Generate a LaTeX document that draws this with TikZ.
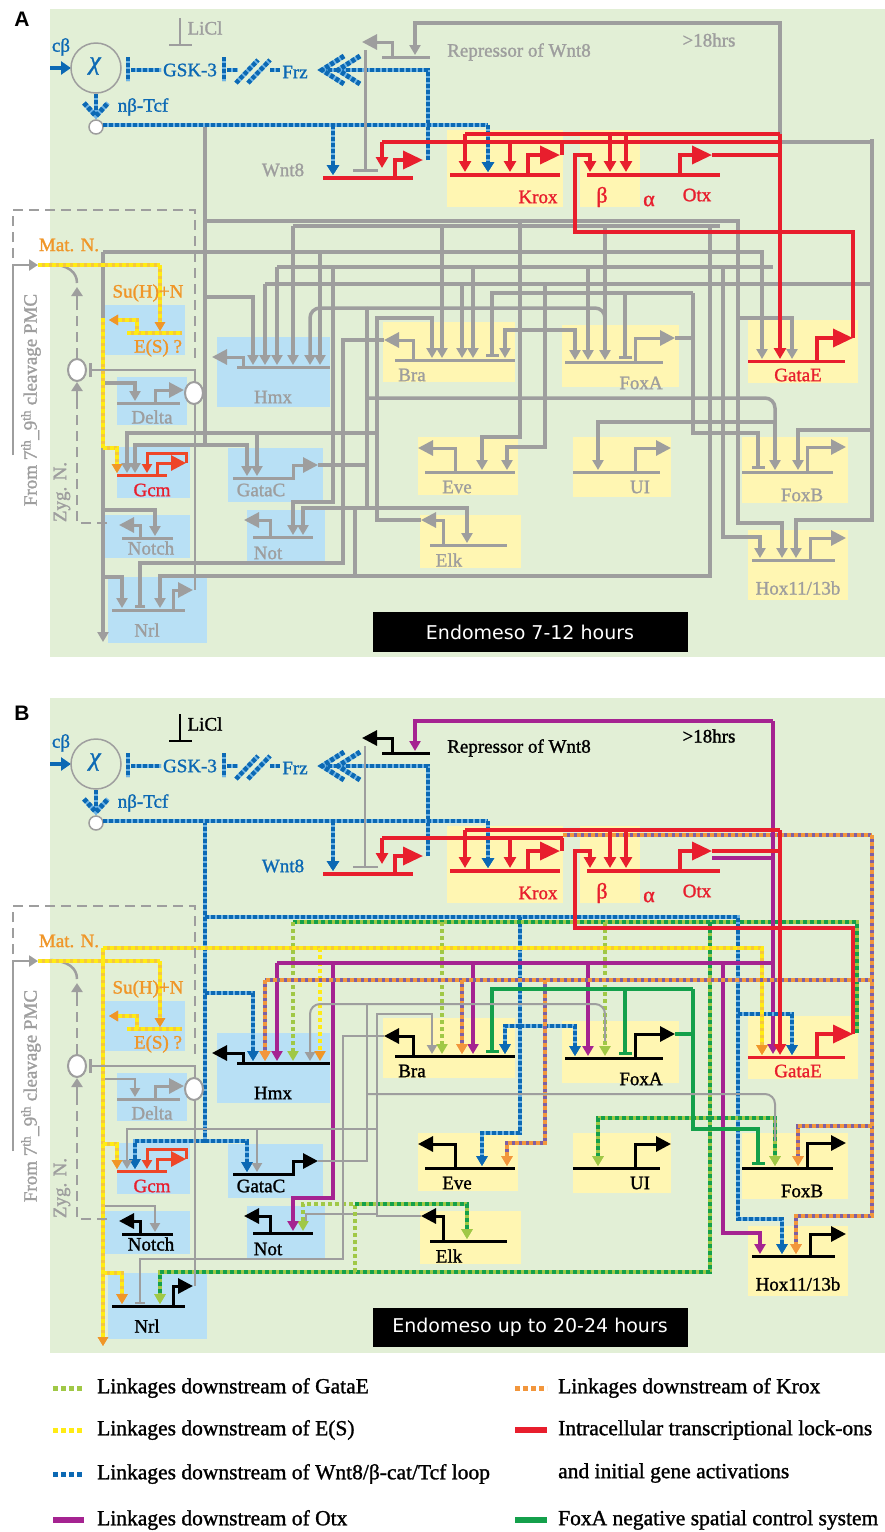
\documentclass[tikz,border=0pt]{standalone}
\usepackage{fontspec}
\setmainfont{Liberation Serif}[FakeBold=1.3]
\newfontfamily\dvs{DejaVu Sans}
\newfontfamily\lsb{Liberation Sans}
\usetikzlibrary{arrows.meta}
\definecolor{bgG}{RGB}{226,239,214}
\definecolor{bxB}{RGB}{184,224,245}
\definecolor{bxY}{RGB}{255,246,178}
\definecolor{gry}{RGB}{158,158,158}
\definecolor{rd}{RGB}{232,30,45}
\definecolor{gcmR}{RGB}{238,70,40}
\definecolor{bluD}{RGB}{12,105,180}
\definecolor{bluL}{RGB}{110,180,230}
\definecolor{mag}{RGB}{165,35,145}
\definecolor{dgn}{RGB}{20,160,75}
\definecolor{lgn}{RGB}{160,200,70}
\definecolor{org}{RGB}{242,150,60}
\definecolor{pur}{RGB}{125,95,165}
\definecolor{yel}{RGB}{255,235,20}
\definecolor{yelB}{RGB}{245,200,60}
\definecolor{orgT}{RGB}{240,150,40}
\newcommand\gsz{\fontsize{19}{20}\selectfont}
\tikzset{
  lab/.style={inner sep=0pt, font=\gsz},
  pr/.style={line width=3pt},
  bt/.style={line width=3pt,-{Triangle[length=15pt,width=15pt]}},
  btR/.style={line width=3.5pt,draw=rd,-{Triangle[length=20pt,width=18pt]}},
  rl/.style={draw=rd,line width=3.5pt},
  tR/.style={-{Triangle[length=11pt,width=12pt,color=rd]}},
  bl/.style={draw=bluD,line width=4.5pt,dash pattern=on 4pt off 2pt,preaction={draw=bluL,solid,line width=4.5pt}},
  yl/.style={draw=yel,line width=4pt,dash pattern=on 4pt off 3pt,preaction={draw=yelB,solid,line width=4pt}},
  tO/.style={-{Triangle[length=9pt,width=10pt,color=orgT]}},
  tBl/.style={-{Triangle[length=10pt,width=12pt,color=bluD]}},
}
% ---------- boxes ----------
\newcommand\boxesAll{%
  \fill[bxB] (103,305) rectangle (185,355);
  \fill[bxB] (117,377) rectangle (187,425);
  \fill[bxB] (117,447) rectangle (190,498);
  \fill[bxB] (105,515) rectangle (190,558);
  \fill[bxB] (108,577) rectangle (207,643);
  \fill[bxB] (217,337) rectangle (330,407);
  \fill[bxB] (228,448) rectangle (323,502);
  \fill[bxB] (247,510) rectangle (325,562);
  \fill[bxY] (447,130) rectangle (563,207);
  \fill[bxY] (580,130) rectangle (640,207);
  \fill[bxY] (383,322) rectangle (515,382);
  \fill[bxY] (562,325) rectangle (679,387);
  \fill[bxY] (748,320) rectangle (858,383);
  \fill[bxY] (418,437) rectangle (518,495);
  \fill[bxY] (573,437) rectangle (671,497);
  \fill[bxY] (742,437) rectangle (848,503);
  \fill[bxY] (420,515) rectangle (521,568);
  \fill[bxY] (748,530) rectangle (848,600);
}
% ---------- promoters / bent arrows ----------
\newcommand\promsAll[1]{%
  \draw[pr,#1] (237,367)--(330,367); \draw[bt,#1] (243,367)--(243,357)--(212,357);
  \draw[pr,gry] (117,403)--(180,403); \draw[bt,gry] (155,403)--(155,390)--(184,390);
  \draw[pr,gcmR] (117,475)--(167,475); \draw[bt,gcmR] (157,475)--(157,463)--(186,463);
  \draw[line width=3pt,gcmR,-{Triangle[length=9pt,width=10pt]}] (186,463)--(186,453)--(147,453)--(147,473);
  \draw[pr,#1] (122,538)--(173,538); \draw[bt,#1] (140,538)--(140,525)--(119,525);
  \draw[pr,#1] (112,610)--(185,610); \draw[bt,#1] (173,610)--(173,590)--(193,590);
  \draw[pr,#1] (233,478)--(295,478); \draw[bt,#1] (293,478)--(293,465)--(318,465);
  \draw[pr,#1] (253,537)--(313,537); \draw[bt,#1] (270,537)--(270,520)--(244,520);
  \draw[pr,#1] (395,360)--(515,360); \draw[bt,#1] (413,360)--(413,340)--(384,340);
  \draw[pr,#1] (565,362)--(663,362); \draw[bt,#1] (635,362)--(635,338)--(675,338);
  \draw[pr,rd] (748,361)--(845,361); \draw[btR] (817,361)--(817,338)--(853,338);
  \draw[pr,#1] (425,472)--(515,472); \draw[bt,#1] (455,472)--(455,448)--(418,448);
  \draw[pr,#1] (573,472)--(660,472); \draw[bt,#1] (635,472)--(635,448)--(671,448);
  \draw[pr,#1] (742,472)--(833,472); \draw[bt,#1] (807,472)--(807,447)--(846,447);
  \draw[pr,#1] (430,545)--(507,545); \draw[bt,#1] (443,545)--(443,520)--(421,520);
  \draw[pr,#1] (752,560)--(835,560); \draw[bt,#1] (810,560)--(810,538)--(846,538);
  \draw[pr,rd,line width=3.5pt] (323,178)--(413,178); \draw[btR] (395,178)--(395,160)--(423,160);
  \draw[pr,rd,line width=3.5pt] (450,175)--(560,175); \draw[btR] (528,175)--(528,155)--(560,155);
  \draw[pr,rd,line width=3.5pt] (587,175)--(720,175); \draw[btR] (680,175)--(680,155)--(712,155);
  \draw[pr,#1] (382,57)--(430,57); \draw[bt,#1] (392,57)--(392,42)--(362,42);
}
% ---------- labels ----------
\newcommand\labsAll[1]{%
  \node[lab,text=#1] (lHmx) at (273,397) {Hmx};
  \node[lab,text=gry] (lDelta) at (152,417) {Delta};
  \node[lab,text=rd] (lGcm) at (152,490) {Gcm};
  \node[lab,text=#1] (lNotch) at (151,548) {Notch};
  \node[lab,text=#1] (lNrl) at (147,630) {Nrl};
  \node[lab,text=#1] (lGataC) at (261,490) {GataC};
  \node[lab,text=#1] (lNot) at (268,553) {Not};
  \node[lab,text=#1] (lBra) at (412,375) {Bra};
  \node[lab,text=#1] (lFoxA) at (641,383) {FoxA};
  \node[lab,text=rd] (lGataE) at (798,375) {GataE};
  \node[lab,text=#1] (lEve) at (457,487) {Eve};
  \node[lab,text=#1] (lUI) at (640,487) {UI};
  \node[lab,text=#1] (lFoxB) at (802,495) {FoxB};
  \node[lab,text=#1] (lElk) at (449,560) {Elk};
  \node[lab,text=#1] (lHox) at (798,588) {Hox11/13b};
  \node[lab,text=rd] (lKrox) at (538,197) {Krox};
  \node[lab,text=rd,font=\fontsize{22}{22}\selectfont] (lbeta) at (602,197) {β};
  \node[lab,text=rd,font=\fontsize{22}{22}\selectfont] (lalpha) at (649,201) {α};
  \node[lab,text=rd] (lOtx) at (697,195) {Otx};
  \node[lab,text=#1] (lRep) at (519,52) {Repressor of Wnt8};
  \node[lab,text=#1] (l18) at (709,40) {>18hrs};
  \node[lab,text=#1] (lLiCl) at (205,28) {LiCl};
  \node[lab,text=orgT] (lMat) at (69,245) {Mat. N.};
  \node[lab,text=orgT] (lSuH) at (148,293) {Su(H)+N};
  \node[lab,text=orgT] (lES) at (158,348) {E(S) ?};
  \node[lab,text=gry,rotate=90] (lPMC) at (31,400) {From 7\textsuperscript{th}\_9\textsuperscript{th} cleavage PMC};
  \node[lab,text=gry,rotate=90] (lZyg) at (62,492) {Zyg. N.};
}
% ---------- signalling top ----------
\newcommand\topsig[1]{%
  \draw[draw=bluD,line width=4pt,-{Triangle[length=10pt,width=13pt]}] (50,68)--(71,68);
  \node[lab,text=bluD] (lcb) at (61,47) {cβ};
  \draw[gry,line width=1.5pt] (96,68) circle[radius=25];
  \node[font=\itshape\fontsize{26}{26}\selectfont,text=bluD,inner sep=0pt] (lchi) at (95,66) {χ};
  \draw[bl] (128,57)--(128,81);
  \draw[bl] (131,70)--(161,70);
  \node[lab,text=bluD] (lgsk) at (190,70) {GSK-3};
  \draw[bl] (224,57)--(224,81);
  \draw[bl] (227,70)--(238,70);
  \draw[bl] (236,83)--(258,60); \draw[bl] (248,83)--(270,60);
  \draw[bl] (270,70)--(280,70);
  \node[lab,text=bluD] (lfrz) at (295,72) {Frz};
  \draw[bl] (428,160)--(428,70)--(324,70);
  \draw[bl,line width=5pt] (344,56)--(322,70)--(344,84);
  \draw[bl,line width=5pt] (360,56)--(338,70)--(360,84);
  \draw[bl] (96,94)--(96,113);
  \draw[bl,line width=5pt] (84,103)--(96,116)--(108,103);
  \draw[gry,line width=1.5pt,fill=white] (96,127) circle[radius=7];
  \node[lab,text=bluD] (lntcf) at (143,107) {nβ-Tcf};
  \draw[bl] (103,125)--(488,125);
  \draw[bl,tBl] (488,125)--(488,172);
  \draw[bl,tBl] (333,125)--(333,175);
  \draw[#1,line width=2pt] (180,18)--(180,45); \draw[#1,line width=2.5pt] (169,45)--(192,45);
}
% ---------- red network ----------
\newcommand\rednet{%
  \draw[rl] (780,134)--(465,134); \draw[rl,tR] (465,134)--(465,172); \draw[rl,tR] (610,134)--(610,172);
  \draw[rl,tR] (626,134)--(626,172);
  \draw[rl] (563,142)--(382,142); \draw[rl,tR] (382,142)--(382,168); \draw[rl,tR] (510,142)--(510,172);
  \draw[rl] (562,155)--(562,142);
  \draw[rl] (712,155)--(780,155);
  \draw[rl,tR] (780,134)--(780,359);
  \draw[rl,tR] (853,338)--(853,232)--(575,232)--(575,155)--(590,155)--(590,172);
}
% ---------- PMC / Delta region ----------
\newcommand\pmc{%
  \draw[gry,line width=2.5pt,dash pattern=on 10pt off 6pt] (13,258)--(13,210)--(195,210)--(195,362);
  \draw[gry,line width=2.5pt,-{Triangle[length=9pt,width=11pt]}] (13,455)--(13,265)--(38,265);
  \draw[gry,line width=2.5pt] (50,264) .. controls (68,265) and (77,272) .. (77,283);
  \draw[gry,line width=2.5pt,dash pattern=on 10pt off 6pt] (77,358)--(77,300);
  \draw[gry,line width=2.5pt,-{Triangle[length=9pt,width=11pt]}] (77,302)--(77,287);
  \draw[gry,line width=2.5pt,dash pattern=on 10pt off 6pt] (107,523)--(77,523)--(77,400);
  \draw[gry,line width=2.5pt,-{Triangle[length=9pt,width=11pt]}] (77,402)--(77,382);
  \draw[gry,line width=2pt,fill=white] (77,370) ellipse[x radius=9,y radius=11];
  \draw[gry,line width=2.5pt,-{Bar[width=14pt,line width=2.5pt]}] (195,383)--(195,370)--(89,370);
  \draw[gry,line width=2.5pt] (195,404)--(195,590);
  \draw[gry,line width=2pt,fill=white] (194,393) ellipse[x radius=9,y radius=11];
  \draw[yl] (38,265)--(160,265); \draw[yl,tO] (160,265)--(160,331);
  \draw[yl] (127,333)--(182,333);
  \draw[yl,tO] (137,333)--(137,320)--(109,320);
  \draw[yl,tO] (103,448)--(117,448)--(117,473);
}
% ---------- shared wiring ----------
\newcommand\wires{%
  % Wnt8 loop
  \draw[WB] (205,125)--(205,445);
  \draw[WB,tB] (205,221)--(738,221)--(738,523)--(782,523)--(782,558);
  \draw[WB,tB] (738,318)--(792,318)--(792,359);
  \draw[WB,tB] (520,221)--(520,437)--(482,437)--(482,470);
  \draw[WB,tB] (520,330)--(505,330)--(505,358);
  \draw[WB,tB] (520,330)--(575,330)--(575,360);
  \draw[WB,tB] (205,297)--(253,297)--(253,365);
  \draw[WB,tB] (205,445)--(135,445)--(135,473);
  \draw[WB,tB] (205,445)--(247,445)--(247,476);
  % GataE
  \draw[WG] (710,226)--(293,226);
  \draw[WGb,tG] (293,226)--(293,365);
  \draw[WGb,tG] (442,226)--(442,358);
  \draw[WGb,tG] (605,226)--(605,360);
  \draw[WG,tG] (710,226)--(710,576)--(160,576)--(160,608);
  \draw[WG,tG] (710,422)--(598,422)--(598,470);
  \draw[WG,tG] (710,422)--(775,422)--(775,470);
  \draw[WGb,tG] (355,576)--(355,508)--(303,508)--(303,535);
  \draw[WG,tG] (355,508)--(467,508)--(467,543);
  % E(S)
  \draw[WY,tY] (103,252)--(762,252)--(762,359);
  \draw[WYb,tY] (320,252)--(320,365);
  \draw[WY,tY] (103,577)--(122,577)--(122,608);
  % Otx
  \draw[WM] (773,267)--(277,267);
  \draw[WM,tM] (277,267)--(277,365);
  \draw[WM,tM] (473,267)--(473,358);
  \draw[WM,tM] (588,267)--(588,360);
  \draw[WM,tM] (333,267)--(333,502)--(293,502)--(293,535);
  \draw[WM,tM] (723,267)--(723,537)--(760,537)--(760,558);
  % Krox
  \draw[WK,tK] (872,139)--(872,520)--(796,520)--(796,558);
  \draw[WK,tK] (872,430)--(798,430)--(798,470);
  \draw[WK] (872,284)--(265,284);
  \draw[WK,tK] (265,284)--(265,365);
  \draw[WK,tK] (462,284)--(462,358);
  \draw[WK,tK] (545,284)--(545,447)--(507,447)--(507,470);
  % FoxA negative
  \draw[WF] (675,338)--(693,338);
  \draw[WF,tF] (693,293)--(693,433)--(758,433)--(758,469);
  \draw[WF,tF] (693,293)--(492,293)--(492,357);
  \draw[WF,tF] (625,293)--(625,359);
  % grey
  \draw[WGr] (318,465)--(367,465)--(367,308);
  \draw[WGr,tGr,rounded corners=10pt] (367,308)--(310,308)--(310,365);
  \draw[WGr,rounded corners=10pt] (367,308)--(605,308)--(605,345);
  \draw[WGr,rounded corners=10pt] (367,398)--(775,398)--(775,445);
  \draw[WGr,tGr] (421,520)--(377,520)--(377,318)--(432,318)--(432,358);
  \draw[WGr,tGr] (377,433)--(127,433)--(127,473);
  \draw[WGr,tGr] (257,433)--(257,476);
  \draw[WGr,tBar] (384,340)--(343,340)--(343,563)--(140,563)--(140,608);
  \draw[WGr,tGr] (103,383)--(135,383)--(135,401);
  \draw[WGr,tGr] (103,510)--(155,510)--(155,536);
}
\begin{document}
\begin{tikzpicture}[x=1pt,y=-1pt]
\useasboundingbox (0,0) rectangle (885,1532);
\fill[white] (0,0) rectangle (885,1532);
% ================= PANEL A =================
\fill[bgG] (50,9) rectangle (885,657);
\node[font=\lsb\bfseries\fontsize{21}{21}\selectfont,inner sep=0pt] (pA) at (22,19) {A};
\begin{scope}[
  WB/.style={draw=gry,line width=3.5pt}, WG/.style={draw=gry,line width=3.5pt},
  WGb/.style={draw=gry,line width=3.5pt}, WY/.style={draw=gry,line width=3.5pt},
  WYb/.style={draw=gry,line width=3.5pt}, WM/.style={draw=gry,line width=3.5pt},
  WK/.style={draw=gry,line width=3.5pt}, WF/.style={draw=gry,line width=3.5pt},
  WGr/.style={draw=gry,line width=3.5pt},
  tB/.style={-{Triangle[length=10pt,width=11pt,color=gry]}},
  tG/.style={-{Triangle[length=10pt,width=11pt,color=gry]}},
  tY/.style={-{Triangle[length=10pt,width=11pt,color=gry]}},
  tM/.style={-{Triangle[length=10pt,width=11pt,color=gry]}},
  tK/.style={-{Triangle[length=10pt,width=11pt,color=gry]}},
  tGr/.style={-{Triangle[length=10pt,width=11pt,color=gry]}},
  tF/.style={-{Bar[width=13pt,line width=3pt,color=gry]}},
  tBar/.style={-{Bar[width=10pt,line width=3pt,color=gry]}}]
\boxesAll
\draw[gry,line width=3.5pt,-{Triangle[length=10pt,width=11pt]}] (103,252)--(103,642);
\draw[gry,line width=3.5pt] (780,142)--(872,142);
\draw[gry,line width=3.5pt,-{Triangle[length=10pt,width=11pt]}] (780,134)--(780,23)--(415,23)--(415,55);
\draw[gry,line width=3.5pt] (367,465)--(367,508)--(303,508);
\draw[gry,line width=3.5pt] (710,226)--(720,226);
\wires
\draw[yl] (103,318)--(103,448);
\pmc
\topsig{gry}
\draw[gry,line width=3pt,-{Bar[width=25pt,line width=3pt]}] (365,50)--(365,172);
\rednet
\draw[rl] (563,142)--(780,142);
\promsAll{gry}
\labsAll{gry}
\node[lab,text=gry] (lWntA) at (283,170) {Wnt8};
\fill[black] (373,612) rectangle (688,652);
\node[font=\dvs\fontsize{19}{19}\selectfont,text=white] (tA) at (530,632) {Endomeso 7-12 hours};
\end{scope}
% ================= PANEL B =================
\fill[bgG] (50,698) rectangle (885,1353);
\node[font=\lsb\bfseries\fontsize{21}{21}\selectfont,inner sep=0pt] (pB) at (22,713) {B};
\begin{scope}[shift={(0,696)},
  WB/.style={bl},
  WG/.style={draw=dgn,line width=4pt,dash pattern=on 4pt off 3pt,preaction={draw=lgn,solid,line width=4pt}},
  WGb/.style={draw=lgn,line width=4pt,dash pattern=on 4pt off 3pt},
  WY/.style={yl},
  WYb/.style={draw=yel,line width=4pt,dash pattern=on 4pt off 3pt},
  WM/.style={draw=mag,line width=3.5pt},
  WK/.style={draw=org,line width=4pt,dash pattern=on 4pt off 3pt,preaction={draw=pur,solid,line width=4pt}},
  WF/.style={draw=dgn,line width=4pt},
  WGr/.style={draw=gry,line width=2pt},
  tB/.style={-{Triangle[length=10pt,width=11pt,color=bluD]}},
  tG/.style={-{Triangle[length=10pt,width=11pt,color=lgn]}},
  tY/.style={-{Triangle[length=10pt,width=11pt,color=orgT]}},
  tM/.style={-{Triangle[length=10pt,width=11pt,color=mag]}},
  tK/.style={-{Triangle[length=10pt,width=11pt,color=org]}},
  tGr/.style={-{Triangle[length=9pt,width=10pt,color=gry]}},
  tF/.style={-{Bar[width=13pt,line width=3pt,color=dgn]}},
  tBar/.style={-{Bar[width=10pt,line width=2pt,color=gry]}}]
\boxesAll
\draw[WG] (857,337)--(857,226)--(710,226);
\draw[WK] (563,139)--(872,139);
\draw[WM] (712,162)--(773,162);
\draw[WM,tM] (773,25)--(773,358);
\draw[WM,tM] (773,25)--(415,25)--(415,55);
\draw[WGr] (377,518)--(306,518)--(306,528);
\wires
\draw[yl,tO] (103,252)--(103,650);
\pmc
\topsig{black}
\draw[gry,line width=2pt,-{Bar[width=25pt,line width=2.5pt]}] (365,50)--(365,172);
\rednet
\promsAll{black}
\labsAll{black}
\node[lab,text=bluD] (lWntB) at (283,170) {Wnt8};
\fill[black] (373,612) rectangle (688,651);
\node[font=\dvs\fontsize{19}{19}\selectfont,text=white] (tB) at (530,631) {Endomeso up to 20-24 hours};
\end{scope}
% ================= LEGEND =================
\tikzset{lg/.style={inner sep=0pt,anchor=west,font=\fontsize{21.5}{22}\selectfont}}
\draw[lgn,line width=5pt,dash pattern=on 5pt off 3pt] (53,1388)--(84,1388);
\node[lg] (g1) at (97,1388) {Linkages downstream of GataE};
\draw[yel,line width=5pt,dash pattern=on 5pt off 3pt] (53,1430)--(84,1430);
\node[lg] (g2) at (97,1430) {Linkages downstream of E(S)};
\draw[bluD,line width=5pt,dash pattern=on 5pt off 3pt] (53,1474)--(84,1474);
\node[lg] (g3) at (97,1474) {Linkages downstream of Wnt8/β-cat/Tcf loop};
\draw[mag,line width=6pt] (53,1520)--(84,1520);
\node[lg] (g4) at (97,1520) {Linkages downstream of Otx};
\draw[org,line width=5pt,dash pattern=on 5pt off 3pt] (515,1388)--(547,1388);
\node[lg] (g5) at (558,1388) {Linkages downstream of Krox};
\draw[rd,line width=6pt] (515,1430)--(547,1430);
\node[lg] (g6) at (558,1430) {Intracellular transcriptional lock-ons};
\node[lg] (g7) at (558,1473) {and initial gene activations};
\draw[dgn,line width=6pt] (515,1520)--(547,1520);
\node[lg] (g8) at (558,1520) {FoxA negative spatial control system};
\end{tikzpicture}
\end{document}
